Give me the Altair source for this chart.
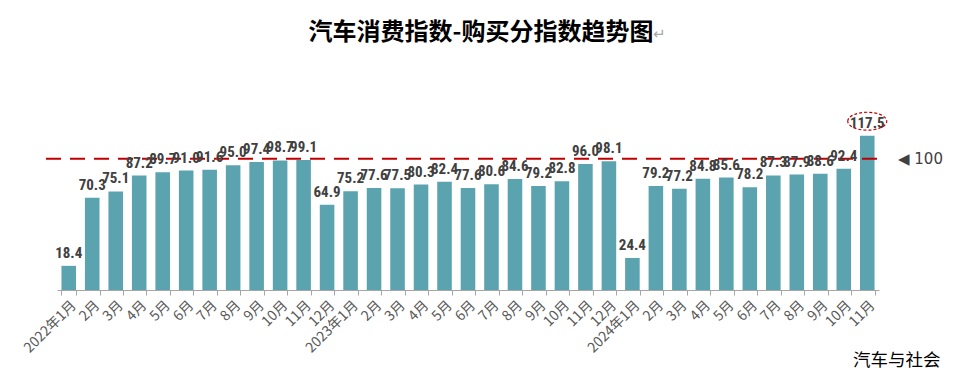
import altair as alt
import pandas as pd

periods = [
    "2022-1", "2022-2", "2022-3", "2022-4", "2022-5", "2022-6",
    "2022-7", "2022-8", "2022-9", "2022-10", "2022-11", "2022-12",
    "2023-1", "2023-2", "2023-3", "2023-4", "2023-5", "2023-6",
    "2023-7", "2023-8", "2023-9", "2023-10", "2023-11", "2023-12",
    "2024-1", "2024-2", "2024-3", "2024-4", "2024-5", "2024-6",
    "2024-7", "2024-8", "2024-9", "2024-10", "2024-11",
]
values = [
    18.4, 70.3, 75.1, 87.2, 89.7, 91.0, 91.6, 95.0, 97.4, 98.7, 99.1, 64.9,
    75.2, 77.6, 77.5, 80.3, 82.4, 77.6, 80.6, 84.6, 79.2, 82.8, 96.0, 98.1,
    24.4, 79.2, 77.2, 84.8, 85.6, 78.2, 87.3, 87.9, 88.6, 92.4, 117.5,
]
highlight = ["2024-11"]
reference_value = [100]
title_text = "汽车消费指数-购买分指数趋势图"
source_text = "汽车与社会"

df = pd.DataFrame({"period": periods, "value": values})
df_hi = df[df["period"].isin(highlight)]
df_ref = pd.DataFrame({"y": reference_value})

label_expr = (
    "isString(datum.value) ? (split(datum.value,'-')[1] == '1' ? "
    "split(datum.value,'-')[0] + '年1月' : split(datum.value,'-')[1] + '月') : ''"
)

x_enc = alt.X(
    "period:N",
    sort=None,
    scale=alt.Scale(paddingInner=0.38, paddingOuter=0.19),
    axis=alt.Axis(
        title=None,
        labelAngle=-45,
        labelExpr=label_expr,
        labelFont="Noto Sans CJK SC",
        labelFontSize=14,
        labelColor="#595959",
        labelPadding=3,
        domainColor="#A6A6A6",
        tickColor="#A6A6A6",
        tickSize=5,
        tickBand="extent",
    ),
)
y_enc = alt.Y("value:Q", scale=alt.Scale(domain=[0, 131]), axis=None)

base = alt.Chart(df)

bars = base.mark_bar(color="#5BA3AE").encode(x=x_enc, y=y_enc)

labels = base.mark_text(
    dy=-5,
    baseline="bottom",
    font="Roboto Condensed, Roboto, sans-serif",
    fontWeight="bold",
    fontSize=15,
    color="#404040",
).encode(x=x_enc, y=y_enc, text=alt.Text("value:Q", format=".1f"))

rule = alt.Chart(df_ref).mark_rule(
    color="#C00000", strokeDash=[15, 9], strokeWidth=2
).encode(y=alt.Y("y:Q", scale=alt.Scale(domain=[0, 131]), axis=None),
         x=alt.value(-11), x2=alt.value(828))

ref_label = alt.Chart(df_ref).mark_text(
    align="left", baseline="middle", fontSize=15, color="#404040",
    font="DejaVu Sans",
).encode(y=alt.Y("y:Q", scale=alt.Scale(domain=[0, 131]), axis=None),
         x=alt.value(841), text=alt.value("◀ 100"))

ellipse = alt.Chart(df_hi).mark_point(
    shape="M -1 0 A 1 0.46 0 1 1 1 0 A 1 0.46 0 1 1 -1 0 Z",
    size=1521,
    filled=False,
    stroke="#C00000",
    strokeDash=[3, 2],
    strokeWidth=1.2,
    opacity=1,
    yOffset=-14.5,
).encode(x=x_enc, y=y_enc)

title = alt.Chart(pd.DataFrame({"t": [title_text]})).mark_text(
    align="center", baseline="middle", font="Noto Sans CJK SC",
    fontWeight="bold", fontSize=24, color="#000000",
).encode(text="t:N", x=alt.value(424), y=alt.value(-85))

para = alt.Chart(pd.DataFrame({"t": ["↵"]})).mark_text(
    align="left", baseline="middle", font="DejaVu Sans",
    fontSize=15, color="#A6A6A6",
).encode(text="t:N", x=alt.value(596), y=alt.value(-84))

source = alt.Chart(pd.DataFrame({"t": [source_text]})).mark_text(
    align="left", baseline="middle", font="Noto Sans CJK SC",
    fontSize=17.5, color="#000000",
).encode(text="t:N", x=alt.value(796), y=alt.value(243))

chart = alt.layer(
    bars, rule, labels, ellipse, ref_label, title, para, source
).properties(
    width=822,
    height=172,
    autosize=alt.AutoSizeParams(type="none"),
    padding={"left": 49, "top": 110, "right": 72, "bottom": 81},
).configure_view(stroke=None)

chart.save("out.html", embed_options={"renderer": "svg", "actions": False})
